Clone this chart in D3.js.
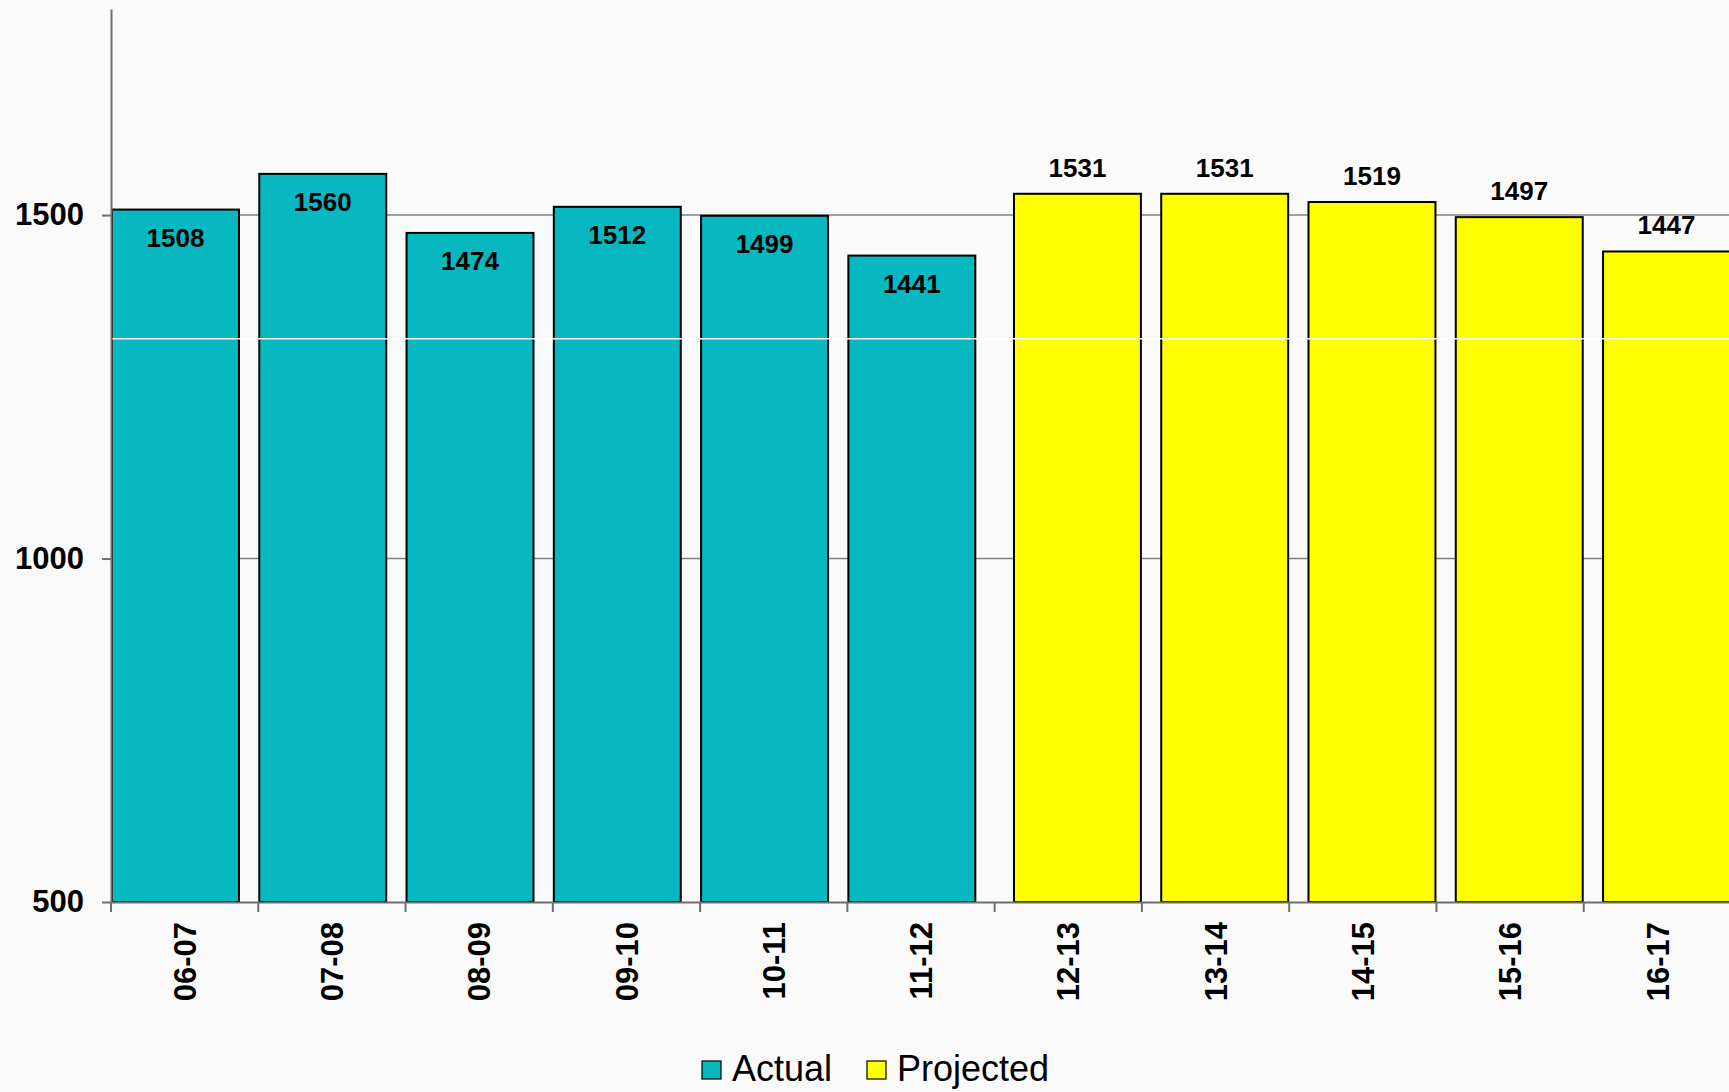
<!DOCTYPE html>
<html>
<head>
<meta charset="utf-8">
<script src="https://cdn.jsdelivr.net/npm/d3@7"></script>
<style>
  html, body { margin: 0; padding: 0; background: #fafafa; }
  svg { display: block; }
  text { font-family: "Liberation Sans", Arial, sans-serif; }
</style>
</head>
<body>
<script>
// ---- data ----
const categories = ["06-07","07-08","08-09","09-10","10-11","11-12","12-13","13-14","14-15","15-16","16-17"];
const actualValues = [1508, 1560, 1474, 1512, 1499, 1441, null, null, null, null, null];
const projectedValues = [null, null, null, null, null, null, 1531, 1531, 1519, 1497, 1447];
const seriesNames = ["Actual", "Projected"];
const yTicks = [500, 1000, 1500];
const yDomain = [500, 1800];
const decorLineValue = 1320;

// ---- layout ----
const W = 1729, H = 1092;
const plot = { left: 111, right: 1731, top: 9, bottom: 902 };
const colors = { Actual: "#08B8C0", Projected: "#FFFF00" };

const svg = d3.select("body").append("svg").attr("width", W).attr("height", H);
svg.append("rect").attr("width", W).attr("height", H).attr("fill", "#fafafa");

const x = d3.scaleBand().domain(categories).range([plot.left, plot.right]).paddingInner(0).paddingOuter(0);
const y = d3.scaleLinear().domain(yDomain).range([plot.bottom, plot.top]);
const bw = x.bandwidth();
const barW = bw * 0.862;

// gridlines
svg.append("g").selectAll("line").data(yTicks.filter(v => v > yDomain[0])).join("line")
  .attr("x1", plot.left).attr("x2", W)
  .attr("y1", d => y(d)).attr("y2", d => y(d))
  .attr("stroke", "#808080").attr("stroke-width", 1.5);

// bars
const rows = categories.map((c, i) => ({ c, actual: actualValues[i], projected: projectedValues[i] }));
const actualRows = rows.filter(r => r.actual != null);
const projRows = rows.filter(r => r.projected != null);

svg.append("g").selectAll("rect").data(actualRows).join("rect")
  .attr("x", d => x(d.c) + 1)
  .attr("y", d => y(d.actual))
  .attr("width", barW)
  .attr("height", d => y(yDomain[0]) - y(d.actual))
  .attr("fill", colors.Actual).attr("stroke", "#000").attr("stroke-width", 2);

svg.append("g").selectAll("rect").data(projRows).join("rect")
  .attr("x", d => x(d.c) + bw - barW - 1)
  .attr("y", d => y(d.projected))
  .attr("width", barW)
  .attr("height", d => y(yDomain[0]) - y(d.projected))
  .attr("fill", colors.Projected).attr("stroke", "#000").attr("stroke-width", 2);

// decorative white line across bars
svg.append("line")
  .attr("x1", plot.left + 1).attr("x2", W)
  .attr("y1", y(decorLineValue)).attr("y2", y(decorLineValue))
  .attr("stroke", "#ffffff").attr("stroke-width", 1.5);

// labels
svg.append("g").selectAll("text").data(actualRows).join("text")
  .attr("x", d => x(d.c) + 1 + barW / 2)
  .attr("y", d => y(d.actual) + 37)
  .attr("text-anchor", "middle")
  .attr("font-size", 26).attr("font-weight", "bold").attr("fill", "#000")
  .text(d => d.actual);

svg.append("g").selectAll("text").data(projRows).join("text")
  .attr("x", d => x(d.c) + bw - barW - 1 + barW / 2)
  .attr("y", d => y(d.projected) - 17)
  .attr("text-anchor", "middle")
  .attr("font-size", 26).attr("font-weight", "bold").attr("fill", "#000")
  .text(d => d.projected);

// y axis
const yAxis = svg.append("g").attr("transform", `translate(${plot.left},0)`)
  .call(d3.axisLeft(y).tickValues(yTicks).tickFormat(d3.format("d")).tickSize(9).tickPadding(18).tickSizeOuter(0));
yAxis.select(".domain").attr("stroke", "#6e6e6e").attr("stroke-width", 2);
yAxis.selectAll(".tick line").attr("stroke", "#6e6e6e").attr("stroke-width", 2);
yAxis.selectAll("text").attr("font-size", 31).attr("font-weight", "bold").attr("fill", "#000")
  .attr("font-family", "'Liberation Sans', Arial, sans-serif");

// x axis
const xAxis = svg.append("g").attr("transform", `translate(0,${plot.bottom})`)
  .call(d3.axisBottom(x).tickSize(0).tickSizeOuter(0));
xAxis.select(".domain").attr("stroke", "#6e6e6e").attr("stroke-width", 2);
xAxis.selectAll("text")
  .attr("transform", "rotate(-90)")
  .attr("text-anchor", "end")
  .attr("x", -20).attr("y", 0).attr("dy", "0.36em")
  .attr("font-size", 31).attr("font-weight", "bold").attr("fill", "#000")
  .attr("font-family", "'Liberation Sans', Arial, sans-serif");
// boundary ticks
xAxis.append("g").selectAll("line").data(categories.concat(["__end"])).join("line")
  .attr("x1", d => d === "__end" ? plot.right : x(d))
  .attr("x2", d => d === "__end" ? plot.right : x(d))
  .attr("y1", 0).attr("y2", 10)
  .attr("stroke", "#6e6e6e").attr("stroke-width", 2);

// legend
const legend = svg.append("g");
const legendX = [702, 867];
seriesNames.forEach((s, i) => {
  const g = legend.append("g").attr("transform", `translate(${legendX[i]},1061)`);
  g.append("rect").attr("width", 19).attr("height", 18)
    .attr("fill", colors[s]).attr("stroke", "#000").attr("stroke-width", 1.2);
  g.append("text").attr("x", 30).attr("y", 20)
    .attr("font-size", 36).attr("fill", "#000").text(s);
});
</script>
</body>
</html>
